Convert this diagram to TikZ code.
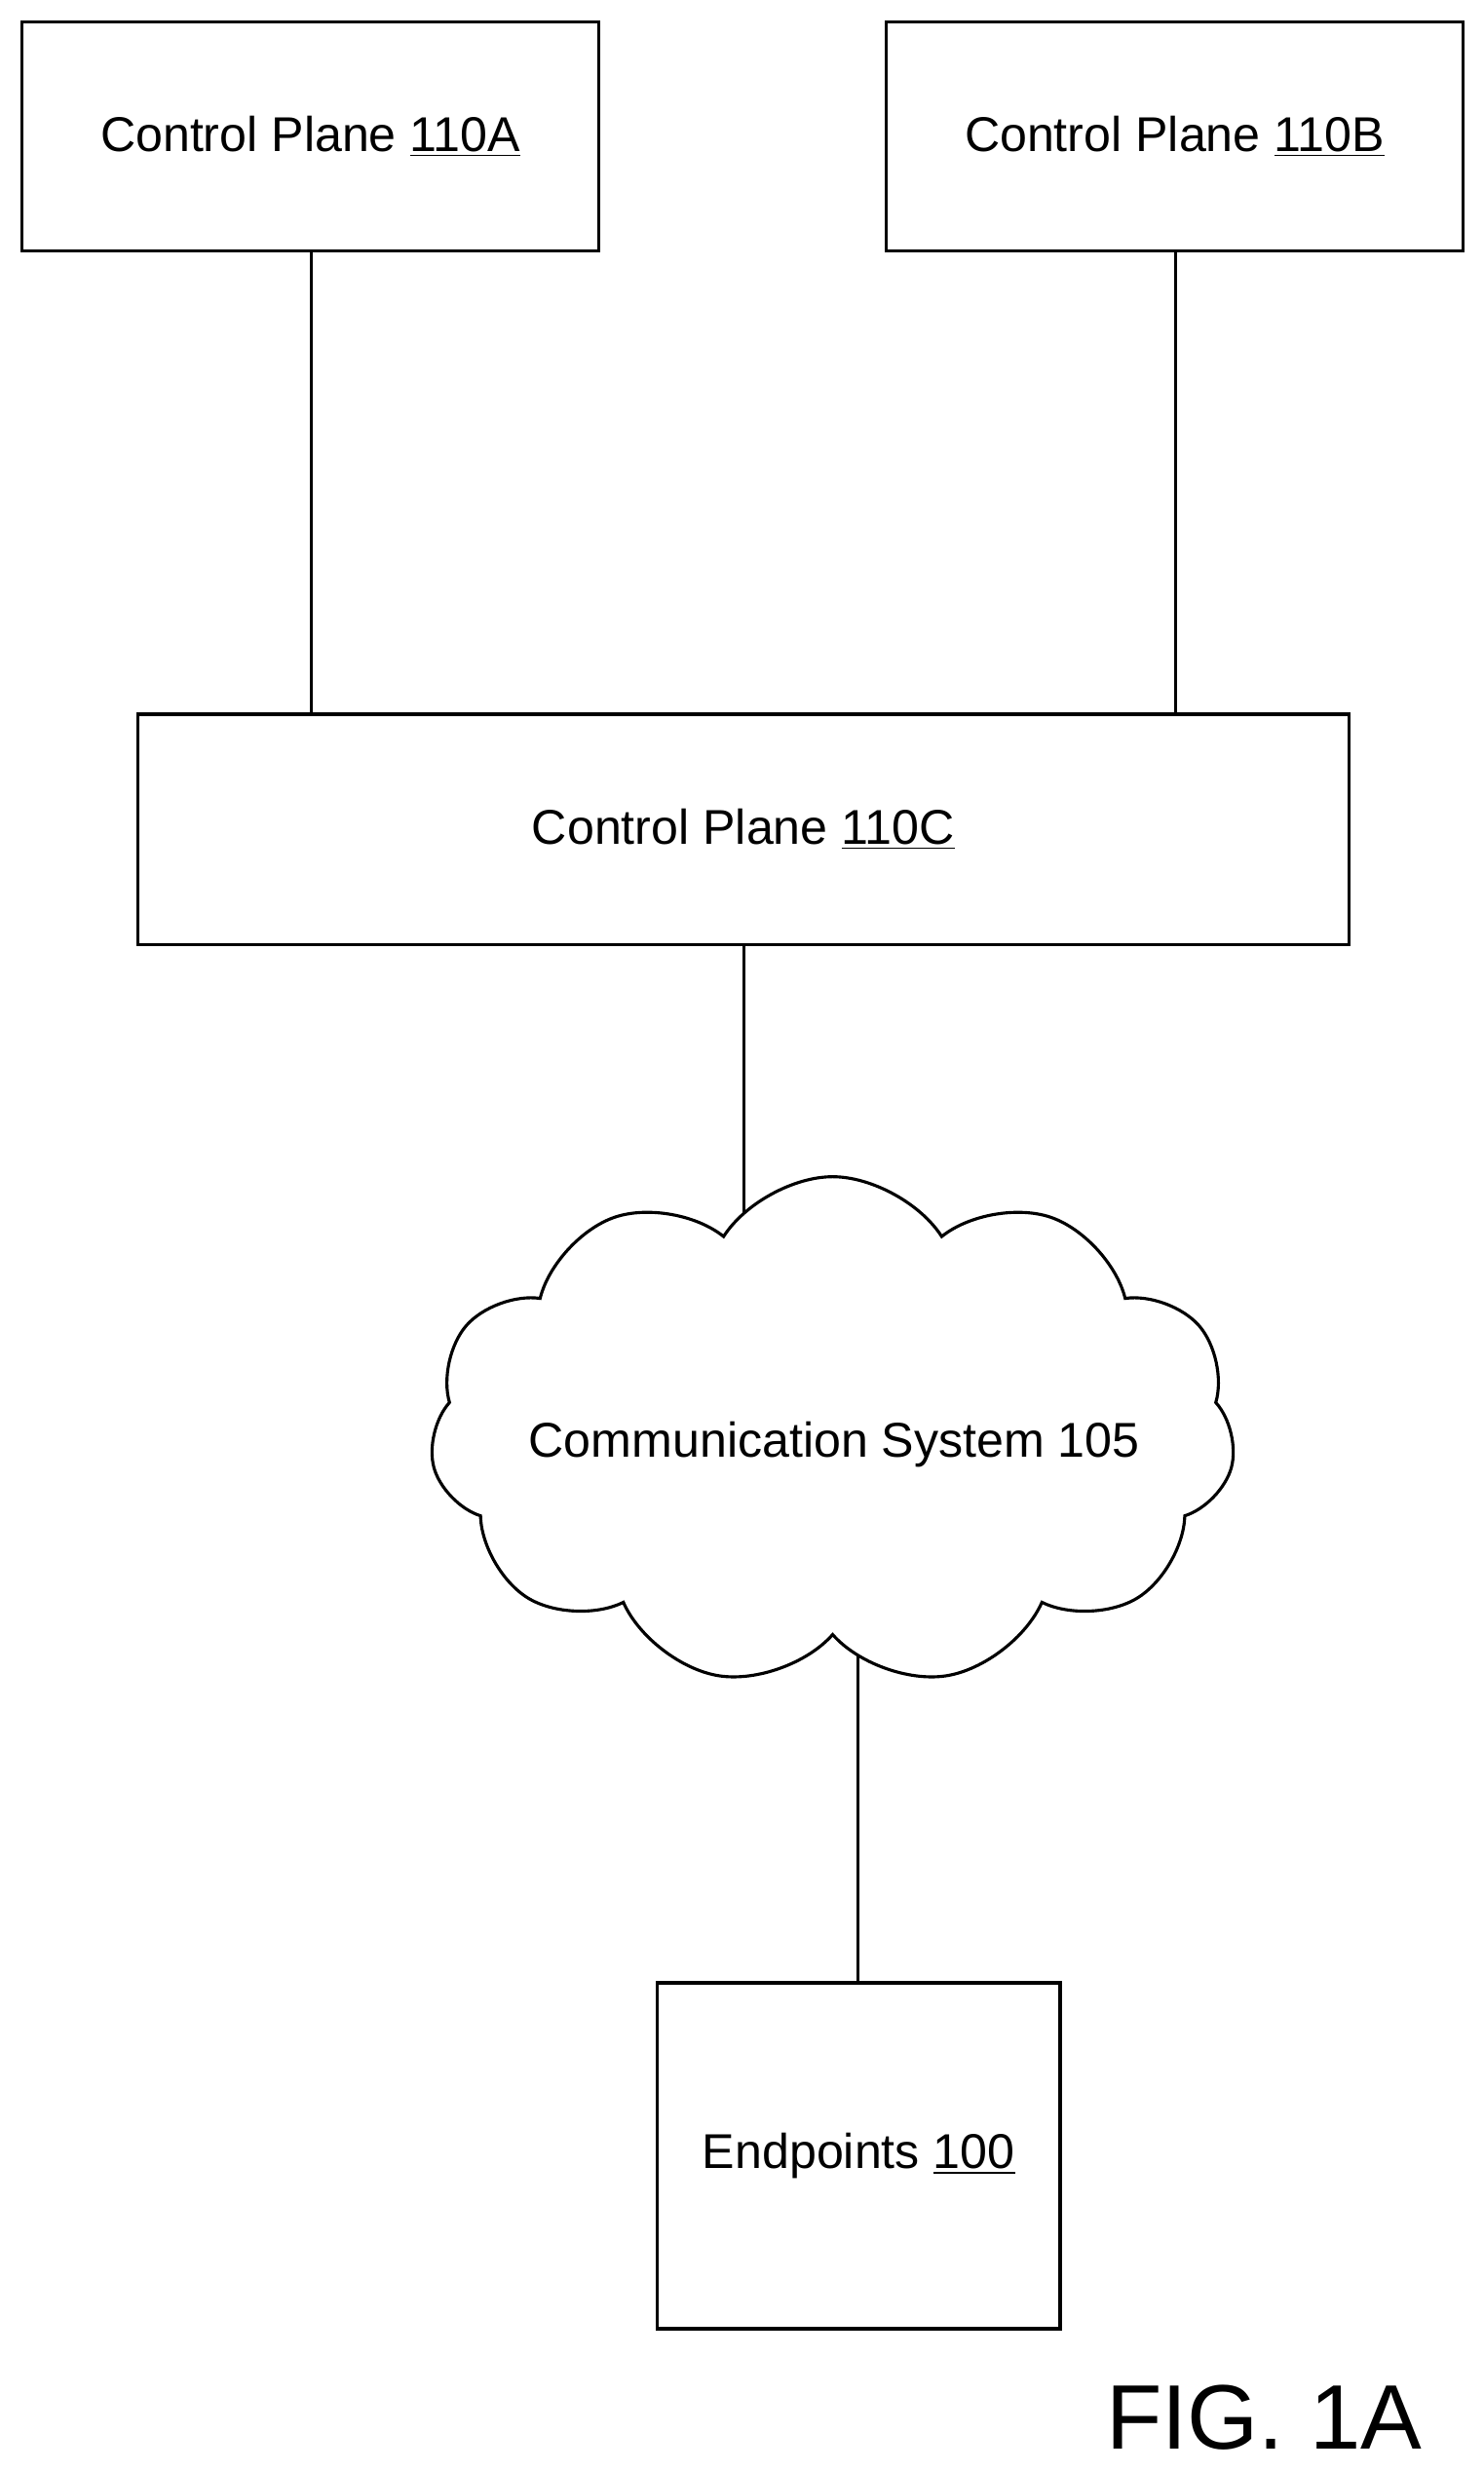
\documentclass[tikz,border=0pt]{standalone}
\usepackage{fontspec}
\setmainfont{Liberation Sans}
\usetikzlibrary{shapes.symbols}
\begin{document}
\begin{tikzpicture}[x=0.02cm,y=-0.02cm,line width=1.1pt,
  box/.style={draw,rectangle,inner sep=0pt,font=\fontsize{17.6}{21}\selectfont},
  lbl/.style={font=\fontsize{17.6}{21}\selectfont}]
\useasboundingbox (0,0) rectangle (939,1564);
\node[box,minimum width=7.3cm,minimum height=2.9cm] (a) at (196.5,86.5) {Control Plane \underline{110A}};
\node[box,minimum width=7.3cm,minimum height=2.9cm] (b) at (743.5,86.5) {Control Plane \underline{110B}};
\node[box,minimum width=15.34cm,minimum height=2.92cm] (c) at (470.5,525) {Control Plane \underline{110C}};
\node[box,minimum width=5.1cm,minimum height=4.38cm] (e) at (543.5,1364.5) {Endpoints \underline{100}};
\coordinate (ct) at (471,820);
\coordinate (cb) at (543,1000);
\draw (a.south -| 197,0) -- (c.north -| 197,0);
\draw (b.south -| 744,0) -- (c.north -| 744,0);
\draw (c.south -| ct) -- (ct);
\draw (cb) -- (e.north -| cb);
\node[draw,fill=white,cloud,cloud puffs=11,cloud puff arc=115,aspect=1.6,
  minimum width=10.2cm,minimum height=6.45cm,inner sep=0pt] (cl) at (527,906) {};
\node[lbl] at (528,914) {Communication System 105};
\node[font=\fontsize{33}{38}\selectfont] (fig) at (800,1530) {FIG. 1A};
\end{tikzpicture}
\end{document}
